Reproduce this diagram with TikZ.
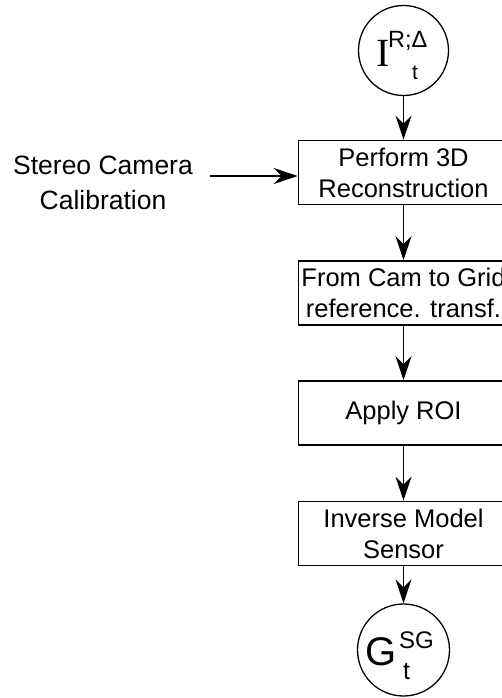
\documentclass[tikz,border=0pt]{standalone}
\usepackage{fontspec}
\setmainfont{Liberation Sans}
\newfontfamily\serifI{Liberation Serif}
\usetikzlibrary{arrows.meta}
\begin{document}
\begin{tikzpicture}[x=1pt,y=-1pt,
  stepbox/.style={draw,line width=1.6pt,minimum width=210pt,minimum height=64pt,inner sep=0pt,align=center,font=\fontsize{25.5}{31}\selectfont},
  term/.style={draw,circle,line width=1.3pt,minimum size=90pt,inner sep=0pt},
  flow/.style={-{Stealth[length=24pt,width=16pt,inset=8pt]},line width=1.3pt},
  lbl/.style={inner sep=0pt,anchor=base west}]
\useasboundingbox (0,0) rectangle (501,698);
% terminals
\node[term] (in) at (403.5,50.5) {};
\node[lbl,font=\serifI\fontsize{40}{40}\selectfont] (inI) at (376,67) {I};
\node[lbl,font=\fontsize{23.5}{23.5}\selectfont] (inS) at (388,48) {R;Δ};
\node[inner sep=0pt,anchor=base,font=\fontsize{21}{21}\selectfont] (inT) at (415,80) {t};

\node[term,minimum size=92pt] (out) at (403.5,650) {};
\node[lbl,font=\fontsize{40}{40}\selectfont] (outG) at (365,665) {G};
\node[lbl,font=\fontsize{24}{24}\selectfont] (outS) at (399,648) {SG};
\node[inner sep=0pt,anchor=base,font=\fontsize{25}{25}\selectfont] (outT) at (406.5,679) {t};

% steps
\node[stepbox] (b1) at (403.5,172.5) {Perform 3D\\Reconstruction};
\node[stepbox] (b2) at (403.5,293) {From Cam to Grid\\reference. transf.};
\node[stepbox] (b3) at (403.5,413) {Apply ROI};
\node[stepbox] (b4) at (403.5,533.5) {Inverse Model\\Sensor};

% side input
\node[inner sep=0pt,align=center,font=\fontsize{26.5}{35}\selectfont] (cal) at (103,183) {Stereo Camera\\Calibration};
\coordinate (cs) at (210,176);

% connectors
\draw[flow] (in) -- (b1);
\draw[flow] (b1) -- (b2);
\draw[flow] (b2) -- (b3);
\draw[flow] (b3) -- (b4);
\draw[flow] (b4) -- (out);
\draw[flow] (cs) -- (cs -| b1.west);
\end{tikzpicture}
\end{document}
